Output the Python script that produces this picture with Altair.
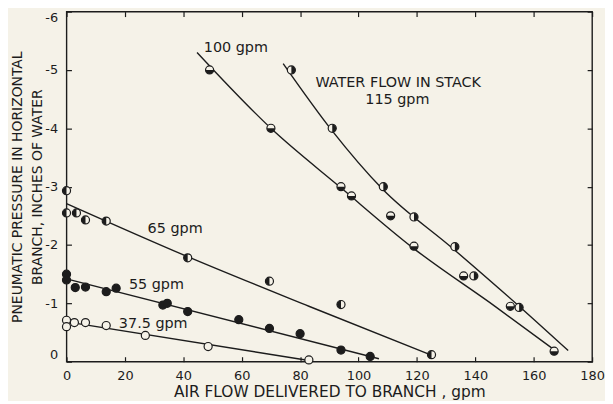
import altair as alt
import pandas as pd

# ---- measured points (x = air flow gpm, y = pressure, inches of water) ----
s37_x = [0, 0, 2.7, 6.5, 13.6, 27, 48.5, 83]
s37_y = [-0.71, -0.6, -0.67, -0.67, -0.62, -0.45, -0.26, -0.03]

s55_x = [0, 0, 3, 6.5, 13.6, 17, 33, 34.5, 41.5, 59, 69.5, 80, 94, 104]
s55_y = [-1.5, -1.4, -1.27, -1.28, -1.2, -1.26, -0.97, -1.0, -0.86, -0.72, -0.57, -0.48, -0.2, -0.09]

s65_x = [0, 0, 3.4, 6.5, 13.6, 41.5, 69.5, 94, 125]
s65_y = [-2.93, -2.55, -2.55, -2.43, -2.41, -1.78, -1.38, -0.98, -0.12]

s100_x = [49, 70, 94, 97.6, 111, 119, 136, 152, 167]
s100_y = [-5.0, -4.0, -3.0, -2.84, -2.5, -1.98, -1.47, -0.95, -0.18]

s115_x = [77, 91, 108.5, 119, 133, 139.5, 155]
s115_y = [-5.0, -4.0, -3.0, -2.48, -1.97, -1.47, -0.93]

# ---- fitted curves ----
l37_x = [1.7, 83]
l37_y = [-0.67, -0.02]
l55_x = [0, 107]
l55_y = [-1.42, -0.05]
l65_x = [0, 41.5, 83, 124.6]
l65_y = [-2.71, -1.8, -0.95, -0.12]
l100_x = [44.7, 70, 94, 118.4, 147, 166.6]
l100_y = [-5.3, -4.0, -2.98, -1.96, -0.94, -0.22]
l115_x = [74.2, 90.8, 108.2, 132.3, 155, 171.8]
l115_y = [-5.11, -3.97, -2.96, -1.94, -0.95, -0.19]

# ---- annotations ----
ann_text = ["100 gpm", "WATER FLOW IN STACK", "115 gpm", "65 gpm", "55 gpm", "37.5 gpm"]
ann_x = [58, 113.6, 113.3, 37.2, 30.8, 29.7]
ann_y = [-5.38, -4.77, -4.48, -2.28, -1.31, -0.65]

x_ticks = [0, 20, 40, 60, 80, 100, 120, 140, 160, 180]
y_ticks = [0, -1, -2, -3, -4, -5, -6]

series = [
    ("37.5 gpm", "open", s37_x, s37_y, l37_x, l37_y),
    ("55 gpm", "full", s55_x, s55_y, l55_x, l55_y),
    ("65 gpm", "left", s65_x, s65_y, l65_x, l65_y),
    ("100 gpm", "bottom", s100_x, s100_y, l100_x, l100_y),
    ("115 gpm", "right", s115_x, s115_y, l115_x, l115_y),
]

pt_rows, ln_rows = [], []
for name, style, sx, sy, lx, ly in series:
    for a, b in zip(sx, sy):
        pt_rows.append({"series": name, "style": style, "x": a, "y": b})
    for a, b in zip(lx, ly):
        ln_rows.append({"series": name, "x": a, "y": b})
pts = pd.DataFrame(pt_rows)
lns = pd.DataFrame(ln_rows)
anns = pd.DataFrame({"text": ann_text, "x": ann_x, "y": ann_y})

FONT = "DejaVu Sans"
INK = "#1c1c1c"
BG = "#f5f2e8"

xscale = alt.Scale(domain=[0, 180], nice=False, zero=False)
yscale = alt.Scale(domain=[0, -6], nice=False, zero=False)

x_main = alt.Axis(orient="bottom", values=x_ticks, offset=-5, tickSize=5, domain=False,
                  labelPadding=8, labelFlush=False, title="AIR FLOW DELIVERED TO BRANCH , gpm",
                  titlePadding=2, titleFontSize=15.5, format="d")
y_main = alt.Axis(orient="left", values=y_ticks, offset=-5, tickSize=5, domain=False,
                  labelPadding=9, labelFlush=True,
                  labelExpr="datum.value < 0 ? '-' + (-datum.value) : '0'",
                  title=["PNEUMATIC PRESSURE IN HORIZONTAL", "BRANCH, INCHES OF WATER"],
                  titlePadding=0, titleLineHeight=20, titleFontSize=14)
x_top = alt.Axis(orient="top", values=x_ticks, offset=-5, tickSize=5, domain=False,
                 labels=False, title=None)
y_right = alt.Axis(orient="right", values=y_ticks, offset=-5, tickSize=5, domain=False,
                   labels=False, title=None)

line_layer = alt.Chart(lns).mark_line(color=INK, strokeWidth=1.4, interpolate="monotone").encode(
    x=alt.X("x:Q", scale=xscale, axis=x_main),
    y=alt.Y("y:Q", scale=yscale, axis=y_main),
    detail="series:N",
)

base_pts = alt.Chart(pts).mark_point(shape="circle", filled=True, fill=BG, stroke=INK,
                                     strokeWidth=1.2, size=66, opacity=1).encode(
    x=alt.X("x:Q", scale=xscale, axis=x_top),
    y=alt.Y("y:Q", scale=yscale, axis=y_right),
)

shape_domain = ["full", "left", "right", "bottom"]
shape_range = ["circle", "M0,-1A1,1,0,0,0,0,1Z", "M0,-1A1,1,0,0,1,0,1Z", "M-1,0A1,1,0,0,0,1,0Z"]
fill_pts = alt.Chart(pts).transform_filter("datum.style != 'open'").mark_point(
    filled=True, color=INK, size=66, opacity=1).encode(
    x=alt.X("x:Q", scale=xscale, axis=None),
    y=alt.Y("y:Q", scale=yscale, axis=None),
    shape=alt.Shape("style:N", scale=alt.Scale(domain=shape_domain, range=shape_range), legend=None),
)

text_layer = alt.Chart(anns).mark_text(font=FONT, fontSize=14.5, color=INK, align="center",
                                       baseline="middle").encode(
    x=alt.X("x:Q", scale=xscale, axis=None),
    y=alt.Y("y:Q", scale=yscale, axis=None),
    text="text:N",
)

chart = alt.layer(line_layer, base_pts, fill_pts, text_layer).resolve_axis(
    x="independent", y="independent"
).properties(
    width=530, height=353,
    autosize=alt.AutoSizeParams(type="none"),
    padding={"left": 59, "top": 2, "right": 13, "bottom": 38},
    background=BG,
).configure_view(
    stroke=INK, strokeWidth=1.4
).configure_axis(
    grid=False, tickColor=INK, tickWidth=1.2,
    labelFont=FONT, labelFontSize=13, labelColor=INK,
    titleFont=FONT, titleFontWeight="normal", titleColor=INK,
)

chart.save("out.html", embed_options={"renderer": "svg", "actions": False})
